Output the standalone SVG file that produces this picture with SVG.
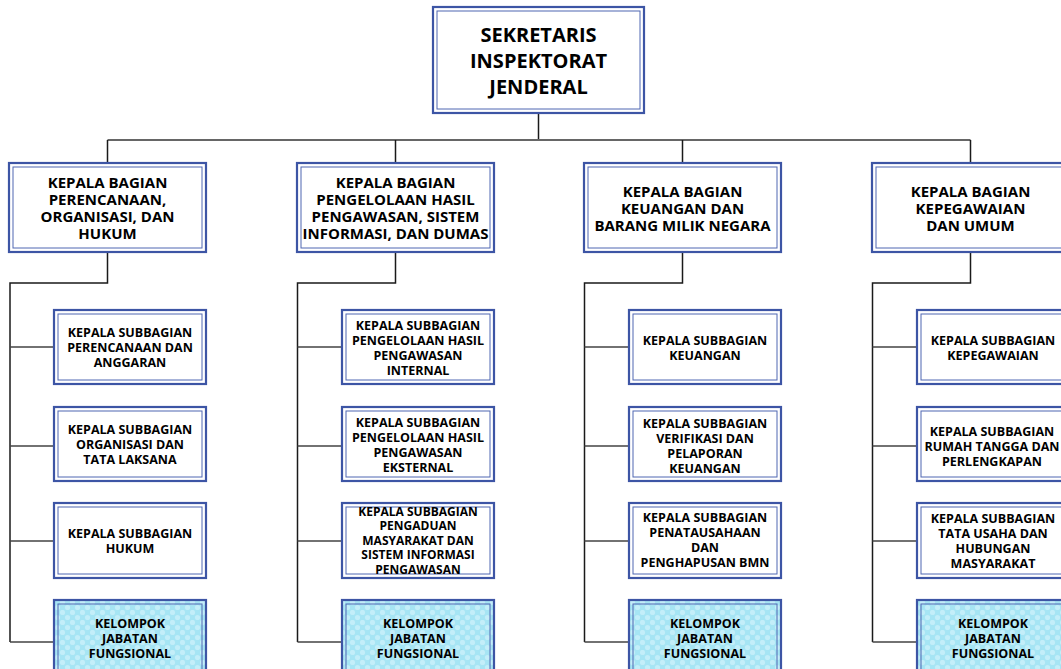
<svg xmlns="http://www.w3.org/2000/svg" width="1061" height="669" viewBox="0 0 1061 669">
<style>
.o{fill:#fff;stroke:#3d55a5;stroke-width:2.2}
.i{fill:none;stroke:#4f66b2;stroke-width:1}
.f{fill:url(#chk);stroke:#3d55a5;stroke-width:2.2}
text{font-family:"Open Sans","Noto Sans","Liberation Sans",sans-serif;font-weight:700;fill:#000;text-anchor:middle}
.t{font-size:20px}
.h{font-size:15px}
.s{font-size:12.5px}
.s5{font-size:12px}
.v{stroke:#1a1a1a;stroke-width:1.5;fill:none}
.g{stroke:#666;stroke-width:2;fill:none}
.c{stroke:#444;stroke-width:1.5;fill:none}
</style>
<defs>
<pattern id="chk" width="10" height="10" patternUnits="userSpaceOnUse">
<rect width="10" height="10" fill="#a6e5f4"/>
<circle cx="2.5" cy="2.5" r="2.6" fill="#c3eef9"/>
<circle cx="7.5" cy="7.5" r="2.6" fill="#c3eef9"/>
</pattern>
</defs>
<rect width="1061" height="669" fill="#fff"/>
<g id="connectors">
<path class="v" d="M538.5 113V140"/>
<path class="g" d="M107.5 140H970.5"/>
<path class="v" d="M107.5 140V163M395.5 140V163M682.5 140V163M970.5 140V163"/>
<path class="v" d="M107.5 252V283H10V642M395.5 252V283H297.5V642M682.5 252V283H584.5V642M970.5 252V283H872.5V642"/>
<path class="c" d="M10 347H54M10 446H54M10 541H54M10 642H54"/>
<path class="c" d="M297.5 347H342M297.5 446H342M297.5 541H342M297.5 642H342"/>
<path class="c" d="M584.5 347H629M584.5 446H629M584.5 541H629M584.5 642H629"/>
<path class="c" d="M872.5 347H917M872.5 446H917M872.5 541H917M872.5 642H917"/>
</g>
<g id="sekretaris">
<rect class="o" x="433" y="7" width="211" height="106"/><rect class="i" x="437" y="11" width="203" height="98"/>
<text class="t" x="538.5" y="42">SEKRETARIS</text><text class="t" x="538.5" y="68">INSPEKTORAT</text><text class="t" x="538.5" y="94">JENDERAL</text>
</g>
<g id="kabag-poh">
<rect class="o" x="9" y="163" width="197" height="89"/><rect class="i" x="13" y="167" width="189" height="81"/>
<text class="h" x="107.5" y="187.5">KEPALA BAGIAN</text><text class="h" x="107.5" y="204.5">PERENCANAAN,</text><text class="h" x="107.5" y="221.5">ORGANISASI, DAN</text><text class="h" x="107.5" y="238.5">HUKUM</text>
</g>
<g id="kabag-php">
<rect class="o" x="297" y="163" width="197" height="89"/><rect class="i" x="301" y="167" width="189" height="81"/>
<text class="h" x="395.5" y="187.5">KEPALA BAGIAN</text><text class="h" x="395.5" y="204.5">PENGELOLAAN HASIL</text><text class="h" x="395.5" y="221.5">PENGAWASAN, SISTEM</text><text class="h" x="395.5" y="238.5">INFORMASI, DAN DUMAS</text>
</g>
<g id="kabag-kbmn">
<rect class="o" x="584" y="163" width="197" height="89"/><rect class="i" x="588" y="167" width="189" height="81"/>
<text class="h" x="682.5" y="196.5">KEPALA BAGIAN</text><text class="h" x="682.5" y="213.5">KEUANGAN DAN</text><text class="h" x="682.5" y="230.5">BARANG MILIK NEGARA</text>
</g>
<g id="kabag-ku">
<rect class="o" x="872" y="163" width="197" height="89"/><rect class="i" x="876" y="167" width="189" height="81"/>
<text class="h" x="970.5" y="196.5">KEPALA BAGIAN</text><text class="h" x="970.5" y="213.5">KEPEGAWAIAN</text><text class="h" x="970.5" y="230.5">DAN UMUM</text>
</g>
<g id="sub-1-1">
<rect class="o" x="54" y="310" width="152" height="74"/><rect class="i" x="58" y="314" width="144" height="66"/>
<text class="s" x="130" y="337">KEPALA SUBBAGIAN</text><text class="s" x="130" y="352">PERENCANAAN DAN</text><text class="s" x="130" y="367">ANGGARAN</text>
</g>
<g id="sub-1-2">
<rect class="o" x="54" y="407" width="152" height="74"/><rect class="i" x="58" y="411" width="144" height="66"/>
<text class="s" x="130" y="434">KEPALA SUBBAGIAN</text><text class="s" x="130" y="449">ORGANISASI DAN</text><text class="s" x="130" y="464">TATA LAKSANA</text>
</g>
<g id="sub-1-3">
<rect class="o" x="54" y="503" width="152" height="75"/><rect class="i" x="58" y="507" width="144" height="67"/>
<text class="s" x="130" y="538">KEPALA SUBBAGIAN</text><text class="s" x="130" y="553">HUKUM</text>
</g>
<g id="jf-1">
<rect class="f" x="54" y="600" width="152" height="76"/><rect class="i" x="58" y="604" width="144" height="68"/>
<text class="s" x="130" y="627.5">KELOMPOK</text><text class="s" x="130" y="642.5">JABATAN</text><text class="s" x="130" y="657.5">FUNGSIONAL</text>
</g>
<g id="sub-2-1">
<rect class="o" x="342" y="310" width="152" height="74"/><rect class="i" x="346" y="314" width="144" height="66"/>
<text class="s" x="418" y="329.5">KEPALA SUBBAGIAN</text><text class="s" x="418" y="344.5">PENGELOLAAN HASIL</text><text class="s" x="418" y="359.5">PENGAWASAN</text><text class="s" x="418" y="374.5">INTERNAL</text>
</g>
<g id="sub-2-2">
<rect class="o" x="342" y="407" width="152" height="74"/><rect class="i" x="346" y="411" width="144" height="66"/>
<text class="s" x="418" y="427">KEPALA SUBBAGIAN</text><text class="s" x="418" y="442">PENGELOLAAN HASIL</text><text class="s" x="418" y="457">PENGAWASAN</text><text class="s" x="418" y="472">EKSTERNAL</text>
</g>
<g id="sub-2-3">
<rect class="o" x="342" y="503" width="152" height="75"/><rect class="i" x="346" y="507" width="144" height="67"/>
<text class="s5" x="418" y="516">KEPALA SUBBAGIAN</text><text class="s5" x="418" y="530.4">PENGADUAN</text><text class="s5" x="418" y="544.8">MASYARAKAT DAN</text><text class="s5" x="418" y="559.2">SISTEM INFORMASI</text><text class="s5" x="418" y="573.6">PENGAWASAN</text>
</g>
<g id="jf-2">
<rect class="f" x="342" y="600" width="152" height="76"/><rect class="i" x="346" y="604" width="144" height="68"/>
<text class="s" x="418" y="627.5">KELOMPOK</text><text class="s" x="418" y="642.5">JABATAN</text><text class="s" x="418" y="657.5">FUNGSIONAL</text>
</g>
<g id="sub-3-1">
<rect class="o" x="629" y="310" width="152" height="74"/><rect class="i" x="633" y="314" width="144" height="66"/>
<text class="s" x="705" y="344.5">KEPALA SUBBAGIAN</text><text class="s" x="705" y="359.5">KEUANGAN</text>
</g>
<g id="sub-3-2">
<rect class="o" x="629" y="407" width="152" height="74"/><rect class="i" x="633" y="411" width="144" height="66"/>
<text class="s" x="705" y="427.5">KEPALA SUBBAGIAN</text><text class="s" x="705" y="442.5">VERIFIKASI DAN</text><text class="s" x="705" y="457.5">PELAPORAN</text><text class="s" x="705" y="472.5">KEUANGAN</text>
</g>
<g id="sub-3-3">
<rect class="o" x="629" y="503" width="152" height="75"/><rect class="i" x="633" y="507" width="144" height="67"/>
<text class="s" x="705" y="521.5">KEPALA SUBBAGIAN</text><text class="s" x="705" y="536.5">PENATAUSAHAAN</text><text class="s" x="705" y="551.5">DAN</text><text class="s" x="705" y="566.5">PENGHAPUSAN BMN</text>
</g>
<g id="jf-3">
<rect class="f" x="629" y="600" width="152" height="76"/><rect class="i" x="633" y="604" width="144" height="68"/>
<text class="s" x="705" y="627.5">KELOMPOK</text><text class="s" x="705" y="642.5">JABATAN</text><text class="s" x="705" y="657.5">FUNGSIONAL</text>
</g>
<g id="sub-4-1">
<rect class="o" x="917" y="310" width="152" height="74"/><rect class="i" x="921" y="314" width="144" height="66"/>
<text class="s" x="993" y="344.5">KEPALA SUBBAGIAN</text><text class="s" x="993" y="359.5">KEPEGAWAIAN</text>
</g>
<g id="sub-4-2">
<rect class="o" x="917" y="407" width="152" height="74"/><rect class="i" x="921" y="411" width="144" height="66"/>
<text class="s" x="992" y="436">KEPALA SUBBAGIAN</text><text class="s" x="992" y="451">RUMAH TANGGA DAN</text><text class="s" x="992" y="466">PERLENGKAPAN</text>
</g>
<g id="sub-4-3">
<rect class="o" x="917" y="503" width="152" height="75"/><rect class="i" x="921" y="507" width="144" height="67"/>
<text class="s" x="993" y="522.5">KEPALA SUBBAGIAN</text><text class="s" x="993" y="537.5">TATA USAHA DAN</text><text class="s" x="993" y="552.5">HUBUNGAN</text><text class="s" x="993" y="567.5">MASYARAKAT</text>
</g>
<g id="jf-4">
<rect class="f" x="917" y="600" width="152" height="76"/><rect class="i" x="921" y="604" width="144" height="68"/>
<text class="s" x="993" y="627.5">KELOMPOK</text><text class="s" x="993" y="642.5">JABATAN</text><text class="s" x="993" y="657.5">FUNGSIONAL</text>
</g>
</svg>
